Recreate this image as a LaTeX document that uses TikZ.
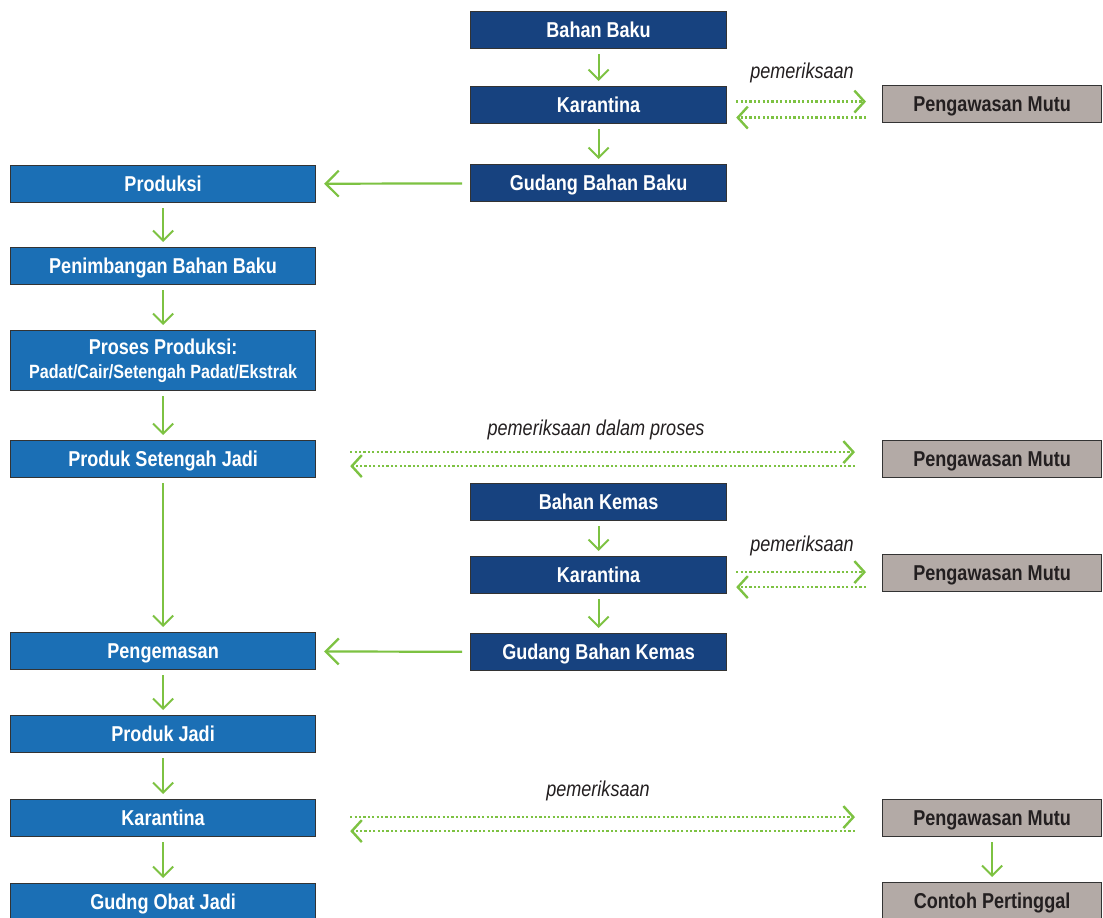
\documentclass[tikz,border=0pt]{standalone}
\usepackage{fontspec}
\setmainfont{Liberation Sans}[FakeStretch=0.84]
\usetikzlibrary{arrows.meta}
\definecolor{dblue}{HTML}{17427F}
\definecolor{mblue}{HTML}{1B6FB5}
\definecolor{gbox}{HTML}{B3AAA6}
\definecolor{grn}{HTML}{7DC242}
\definecolor{bord}{HTML}{333333}
\definecolor{ink}{HTML}{231F20}
\begin{document}
\begin{tikzpicture}[x=1pt,y=-1pt,
 box/.style={draw=bord, line width=1.2pt, anchor=north west, inner sep=0pt, font=\fontsize{21.5}{24}\selectfont\bfseries, align=center, minimum height=37pt},
 sl/.style={text height=15.5pt, text depth=0pt},
 darkbox/.style={box, sl, fill=dblue, text=white, minimum width=256pt},
 leftbase/.style={box, fill=mblue, text=white, minimum width=305pt},
 leftbox/.style={leftbase, sl},
 qbox/.style={box, sl, fill=gbox, text=ink, minimum width=219pt},
 flow/.style={draw=grn, line width=2pt, -{Straight Barb[length=10pt,width=20pt]}, shorten <=5pt, shorten >=5pt},
 bigflow/.style={draw=grn, line width=2.2pt, -{Straight Barb[length=13pt,width=26pt]}, shorten <=8pt, shorten >=8pt},
 dots/.style={draw=grn, line width=2.4pt, dash pattern=on 2.2pt off 2.2pt, -{Straight Barb[length=10pt,width=22pt]}},
 lbl/.style={font=\fontsize{21.5}{24}\selectfont\itshape, text=ink}
]
\useasboundingbox (0,0) rectangle (1103,918);

% centre column
\node[darkbox] (bb) at (470,11) {Bahan Baku};
\node[darkbox] (k1) at (470,86) {Karantina};
\node[darkbox] (gbb) at (470,164) {Gudang Bahan Baku};
\node[darkbox] (bk) at (470,483) {Bahan Kemas};
\node[darkbox] (k2) at (470,556) {Karantina};
\node[darkbox] (gbk) at (470,633) {Gudang Bahan Kemas};

% left column
\node[leftbox] (prd) at (10,165) {Produksi};
\node[leftbox] (pen) at (10,247) {Penimbangan Bahan Baku};
\node[leftbase, minimum height=60pt] (pp) at (10,330) {Proses Produksi:\\[0pt]{\fontsize{19.2}{21}\selectfont Padat/Cair/Setengah Padat/Ekstrak}};
\node[leftbox] (psj) at (10,440) {Produk Setengah Jadi};
\node[leftbox] (pgm) at (10,632) {Pengemasan};
\node[leftbox] (pj) at (10,715) {Produk Jadi};
\node[leftbox] (k3) at (10,799) {Karantina};
\node[leftbox] (goj) at (10,883) {Gudng Obat Jadi};

% right column
\node[qbox] (pm1) at (882,85) {Pengawasan Mutu};
\node[qbox] (pm2) at (882,440) {Pengawasan Mutu};
\node[qbox] (pm3) at (882,554) {Pengawasan Mutu};
\node[qbox] (pm4) at (882,799) {Pengawasan Mutu};
\node[qbox] (cp) at (882,882) {Contoh Pertinggal};

% vertical flows
\draw[flow] (bb) -- (k1);
\draw[flow] (k1) -- (gbb);
\draw[flow] (bk) -- (k2);
\draw[flow] (k2) -- (gbk);
\draw[flow] (prd) -- (pen);
\draw[flow] (pen) -- (pp);
\draw[flow] (pp) -- (psj);
\draw[flow] (psj) -- (pgm);
\draw[flow] (pgm) -- (pj);
\draw[flow] (pj) -- (k3);
\draw[flow] (k3) -- (goj);
\draw[flow] (pm4) -- (cp);

% horizontal flows
\draw[bigflow] (gbb) -- (prd);
\draw[bigflow] (gbk) -- (pgm);

% dotted inspection arrows
\draw[dots, shorten <=9pt, shorten >=16pt] ([yshift=3.5pt]k1.east) -- ([yshift=3.5pt]k1.east -| pm1.west);
\draw[dots, shorten <=16pt, shorten >=9pt] ([yshift=-12.5pt]k1.east -| pm1.west) -- ([yshift=-12.5pt]k1.east);
\node[lbl] (l1) at (802,73) {pemeriksaan};

\draw[dots, shorten <=34pt, shorten >=27pt] ([yshift=7pt]psj.east) -- ([yshift=7pt]psj.east -| pm2.west);
\draw[dots, shorten <=27pt, shorten >=34pt] ([yshift=-7pt]psj.east -| pm2.west) -- ([yshift=-7pt]psj.east);
\node[lbl] (l2) at (596,430) {pemeriksaan dalam proses};

\draw[dots, shorten <=9pt, shorten >=16pt] ([yshift=3pt]k2.east) -- ([yshift=3pt]k2.east -| pm3.west);
\draw[dots, shorten <=16pt, shorten >=9pt] ([yshift=-12pt]k2.east -| pm3.west) -- ([yshift=-12pt]k2.east);
\node[lbl] (l3) at (802,546) {pemeriksaan};

\draw[dots, shorten <=34pt, shorten >=27pt] ([yshift=1pt]k3.east) -- ([yshift=1pt]k3.east -| pm4.west);
\draw[dots, shorten <=27pt, shorten >=34pt] ([yshift=-13pt]k3.east -| pm4.west) -- ([yshift=-13pt]k3.east);
\node[lbl] (l4) at (598,791) {pemeriksaan};
\end{tikzpicture}
\end{document}
